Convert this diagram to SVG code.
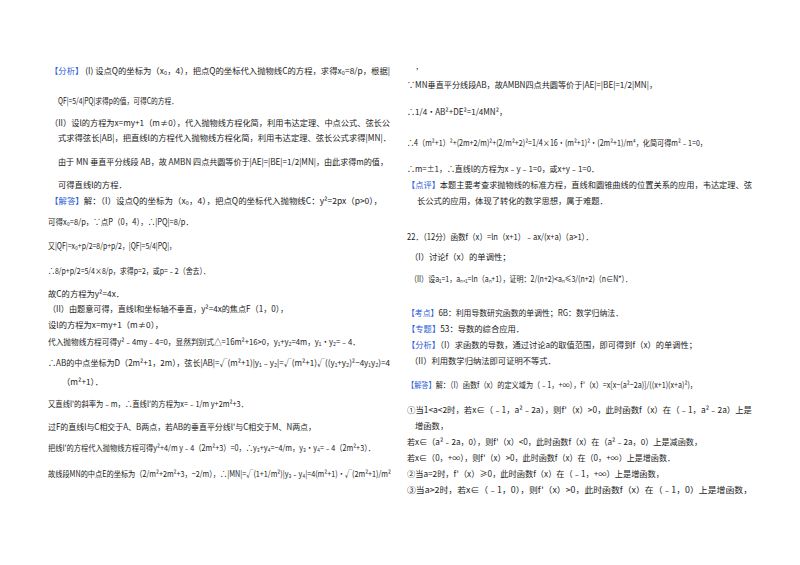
<svg xmlns="http://www.w3.org/2000/svg" width="800" height="565" viewBox="0 0 800 565">
<style>
text{font-family:"Noto Sans CJK SC","Liberation Sans",sans-serif;font-size:8.3px;fill:#222}
.b{fill:#2a5bd7}
</style>
<rect width="800" height="565" fill="#fff"/>
<g id="left">
<text x="50" y="74" textLength="340" lengthAdjust="spacingAndGlyphs"><tspan class="b">【分析】</tspan> (I) 设点Q的坐标为（x₀，4），把点Q的坐标代入抛物线C的方程，求得x₀=8/p，根据|</text>
<text x="58" y="104" textLength="120" lengthAdjust="spacingAndGlyphs">QF|=5/4|PQ|求得p的值，可得C的方程．</text>
<text x="50" y="126" textLength="340" lengthAdjust="spacingAndGlyphs">（II）设l的方程为x=my+1（m≠0），代入抛物线方程化简，利用韦达定理、中点公式、弦长公</text>
<text x="58" y="141" textLength="333" lengthAdjust="spacingAndGlyphs">式求得弦长|AB|，把直线l的方程代入抛物线方程化简，利用韦达定理、弦长公式求得|MN|．</text>
<text x="58" y="165" textLength="330" lengthAdjust="spacingAndGlyphs">由于 MN 垂直平分线段 AB，故 AMBN 四点共圆等价于|AE|=|BE|=1/2|MN|，由此求得m的值，</text>
<text x="58" y="188">可得直线l的方程．</text>
<text x="50" y="204" textLength="332" lengthAdjust="spacingAndGlyphs"><tspan class="b">【解答】</tspan>解：（I）设点Q的坐标为（x₀，4），把点Q的坐标代入抛物线C：y²=2px（p&gt;0），</text>
<text x="48" y="225" textLength="145" lengthAdjust="spacingAndGlyphs">可得x₀=8/p，∵点P（0，4），∴|PQ|=8/p．</text>
<text x="48" y="249" textLength="128" lengthAdjust="spacingAndGlyphs">又|QF|=x₀+p/2=8/p+p/2，|QF|=5/4|PQ|，</text>
<text x="48" y="274" textLength="162" lengthAdjust="spacingAndGlyphs">∴8/p+p/2=5/4×8/p，求得p=2，或p=﹣2（舍去）．</text>
<text x="48" y="297">故C的方程为y²=4x．</text>
<text x="48" y="312" textLength="240" lengthAdjust="spacingAndGlyphs">（II）由题意可得，直线l和坐标轴不垂直，y²=4x的焦点F（1，0），</text>
<text x="48" y="328">设l的方程为x=my+1（m≠0），</text>
<text x="48" y="345" textLength="312" lengthAdjust="spacingAndGlyphs">代入抛物线方程可得y²﹣4my﹣4=0，显然判别式△=16m²+16&gt;0，y₁+y₂=4m，y₁•y₂=﹣4．</text>
<text x="48" y="366" textLength="342" lengthAdjust="spacingAndGlyphs">∴AB的中点坐标为D（2m²+1，2m），弦长|AB|=√(m²+1)|y₁﹣y₂|=√(m²+1)√((y₁+y₂)²−4y₁y₂)=4</text>
<text x="62" y="385">（m²+1）．</text>
<text x="48" y="407" textLength="200" lengthAdjust="spacingAndGlyphs">又直线l'的斜率为﹣m，∴直线l'的方程为x=﹣1/m y+2m²+3．</text>
<text x="48" y="430" textLength="268" lengthAdjust="spacingAndGlyphs">过F的直线l与C相交于A、B两点，若AB的垂直平分线l'与C相交于M、N两点，</text>
<text x="48" y="451" textLength="327" lengthAdjust="spacingAndGlyphs">把线l'的方程代入抛物线方程可得y²+4/m y﹣4（2m²+3）=0，∴y₃+y₄=−4/m，y₃•y₄=﹣4（2m²+3）．</text>
<text x="48" y="477" textLength="343" lengthAdjust="spacingAndGlyphs">故线段MN的中点E的坐标为（2/m²+2m²+3，−2/m），∴|MN|=√(1+1/m²)|y₃﹣y₄|=4(m²+1)•√(2m²+1)/m²</text>
</g>
<g id="right">
<text x="416" y="69">,</text>
<text x="407" y="88" textLength="250" lengthAdjust="spacingAndGlyphs">∵MN垂直平分线段AB，故AMBN四点共圆等价于|AE|=|BE|=1/2|MN|，</text>
<text x="407" y="115" textLength="100" lengthAdjust="spacingAndGlyphs">∴1/4•AB²+DE²=1/4MN²，</text>
<text x="407" y="146" textLength="300" lengthAdjust="spacingAndGlyphs">∴4（m²+1）²+(2m+2/m)²+(2/m²+2)²=1/4×16•(m²+1)²•(2m²+1)/m⁴，化简可得m²﹣1=0，</text>
<text x="407" y="172" textLength="192" lengthAdjust="spacingAndGlyphs">∴m=±1，∴直线l的方程为x﹣y﹣1=0，或x+y﹣1=0．</text>
<text x="407" y="188" textLength="345" lengthAdjust="spacingAndGlyphs"><tspan class="b">【点评】</tspan>本题主要考查求抛物线的标准方程，直线和圆锥曲线的位置关系的应用，韦达定理、弦</text>
<text x="417" y="204">长公式的应用，体现了转化的数学思想，属于难题．</text>
<text x="407" y="240" textLength="186" lengthAdjust="spacingAndGlyphs">22．（12分）函数f（x）=ln（x+1）﹣ax/(x+a)（a&gt;1）．</text>
<text x="410" y="260">（I）讨论f（x）的单调性；</text>
<text x="410" y="282" textLength="222" lengthAdjust="spacingAndGlyphs">（II）设a₁=1，aₙ₊₁=ln（aₙ+1），证明：2/(n+2)&lt;aₙ≤3/(n+2)（n∈N*）．</text>
<text x="407" y="316" textLength="216" lengthAdjust="spacingAndGlyphs"><tspan class="b">【考点】</tspan>6B：利用导数研究函数的单调性；RG：数学归纳法．</text>
<text x="407" y="332"><tspan class="b">【专题】</tspan>53：导数的综合应用．</text>
<text x="407" y="348" textLength="290" lengthAdjust="spacingAndGlyphs"><tspan class="b">【分析】</tspan>（I）求函数的导数，通过讨论a的取值范围，即可得到f（x）的单调性；</text>
<text x="410" y="364">（II）利用数学归纳法即可证明不等式．</text>
<text x="407" y="388" textLength="290" lengthAdjust="spacingAndGlyphs"><tspan class="b">【解答】</tspan>解：（I）函数f（x）的定义域为（﹣1，+∞），f'（x）=x[x−(a²−2a)]/((x+1)(x+a)²)，</text>
<text x="407" y="413" textLength="345" lengthAdjust="spacingAndGlyphs">①当1&lt;a&lt;2时，若x∈（﹣1，a²﹣2a），则f'（x）&gt;0，此时函数f（x）在（﹣1，a²﹣2a）上是</text>
<text x="415" y="429">增函数，</text>
<text x="407" y="445" textLength="295" lengthAdjust="spacingAndGlyphs">若x∈（a²﹣2a，0），则f'（x）&lt;0，此时函数f（x）在（a²﹣2a，0）上是减函数，</text>
<text x="407" y="461" textLength="268" lengthAdjust="spacingAndGlyphs">若x∈（0，+∞），则f'（x）&gt;0，此时函数f（x）在（0，+∞）上是增函数．</text>
<text x="407" y="477" textLength="257" lengthAdjust="spacingAndGlyphs">②当a=2时，f'（x）≥0，此时函数f（x）在（﹣1，+∞）上是增函数，</text>
<text x="407" y="493" textLength="345" lengthAdjust="spacingAndGlyphs">③当a&gt;2时，若x∈（﹣1，0），则f'（x）&gt;0，此时函数f（x）在（﹣1，0）上是增函数，</text>
</g>
</svg>
